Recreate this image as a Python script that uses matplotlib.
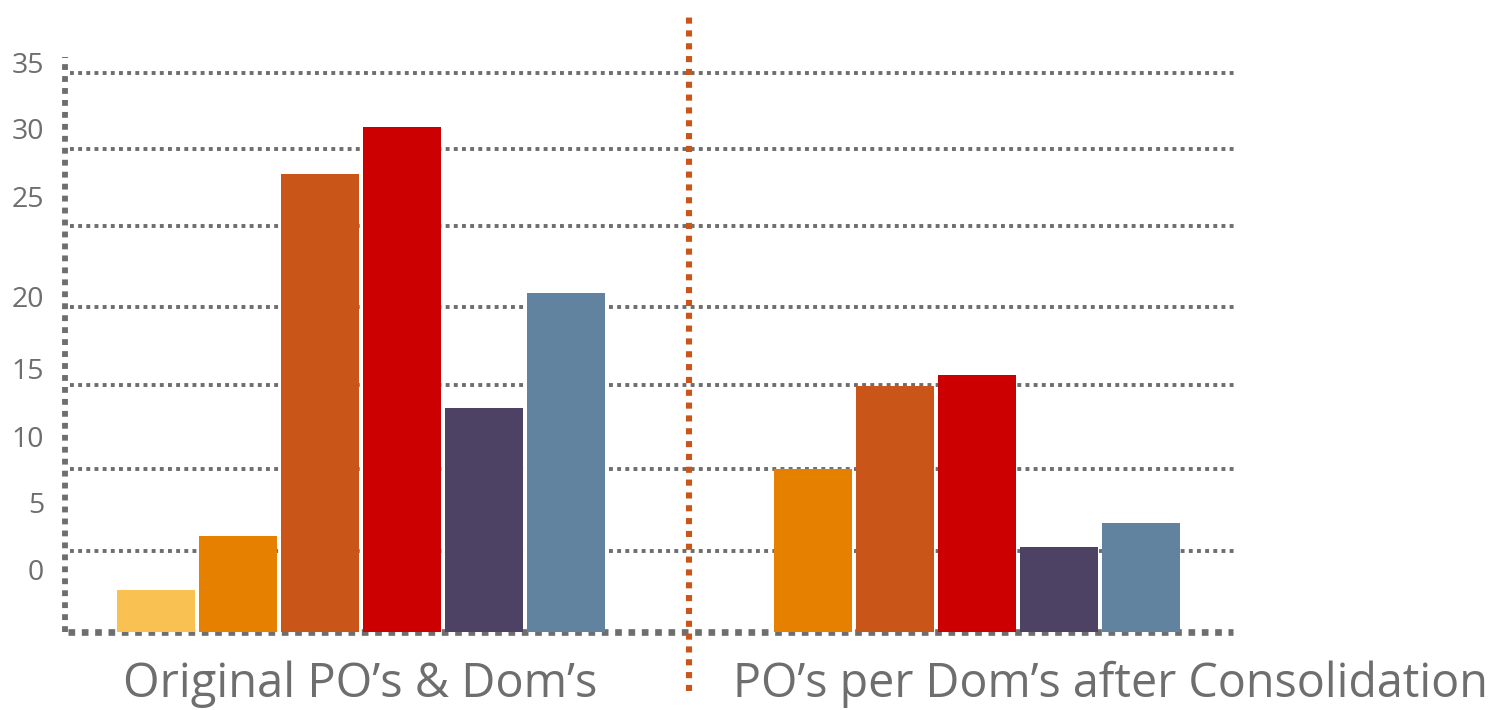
import numpy as np
import matplotlib.pyplot as plt

# values (gridlines are ~5 apart)
colors = ['#F9C152', '#E68000', '#C95518', '#CC0000', '#4E4264', '#6283A0']
original = [2.6, 6.0, 28.7, 31.6, 14.0, 21.2]
consolidated = [0, 10.2, 15.4, 16.1, 5.3, 6.8]   # first slot empty

group_labels = ["Original PO\u2019s & Dom\u2019s", "PO\u2019s per Dom\u2019s after Consolidation"]

# the tick labels in the source sit off the gridlines
tick_labels = ['0', '5', '10', '15', '20', '25', '30', '35']
tick_pos = [3.94, 8.08, 12.27, 16.47, 20.98, 27.24, 31.5, 35.65]
grid_vals = [5.09, 10.23, 15.44, 20.35, 25.42, 30.21, 35.0]

gray = '#6E6E6E'
txt_font = ['Open Sans', 'DejaVu Sans']

fig = plt.figure(figsize=(15.07, 7.10), dpi=100)
ax = fig.add_axes([65 / 1507, 78 / 710, (1236 - 65) / 1507, 575 / 710])
ax.set_xlim(-1.108, 13.155)
ax.set_ylim(0, 36.0)

x1 = np.arange(6)
x2 = np.arange(6) + 7
ax.bar(x1, original, width=0.95, color=colors, zorder=3)
ax.bar(x2[1:], consolidated[1:], width=0.95, color=colors[1:], zorder=3)

# dotted gridlines
for g in grid_vals:
    ax.plot([-1.047, 13.155], [g, g], color=gray, lw=2.8,
            linestyle=(0, (1, 1.1)), dash_capstyle='butt', zorder=1)

# baseline and left axis, heavy square dots
ax.plot([-1.07, 13.12], [0, 0], color=gray, lw=4.8, linestyle=(0, (1, 1)),
        dash_capstyle='butt', clip_on=False, zorder=2)
ax.plot([-1.108, -1.108], [0, 36.0], color=gray, lw=4.2, linestyle=(0, (1, 1.05)),
        dash_capstyle='butt', clip_on=False, zorder=2)

# orange divider
ax.plot([6.49, 6.49], [-3.7, 38.9], color='#C95518', lw=4.4, linestyle=(0, (1, 1.1)),
        dash_capstyle='butt', clip_on=False, zorder=4)

for s in ax.spines.values():
    s.set_visible(False)
ax.set_xticks([])
ax.set_yticks(tick_pos)
ax.set_yticklabels(tick_labels, color=gray, fontsize=20.5, family=txt_font)
ax.tick_params(axis='y', length=0, pad=15)

fig.text(360 / 1507, 1 - 684 / 710, group_labels[0], ha='center', va='center',
         fontsize=33.8, color=gray, family=txt_font)
fig.text(1110 / 1507, 1 - 684 / 710, group_labels[1], ha='center', va='center',
         fontsize=33.6, color=gray, family=txt_font)

fig.savefig('out.png', dpi=100)
